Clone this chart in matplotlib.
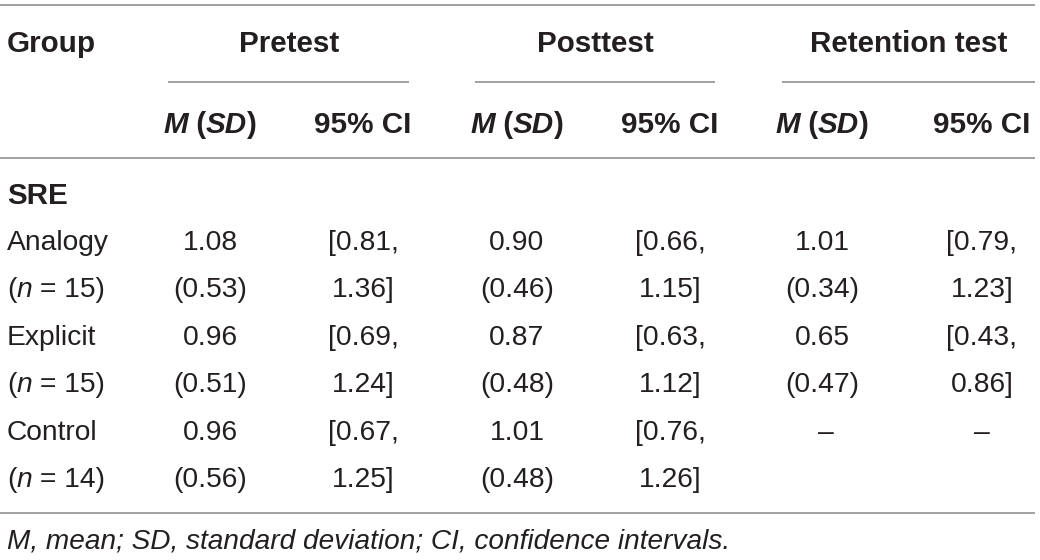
import matplotlib.pyplot as plt
import matplotlib

matplotlib.rcParams['font.family'] = ['Liberation Sans', 'DejaVu Sans']

# table data
tests = ["Pretest", "Posttest", "Retention test"]
groups = ["Analogy", "Explicit", "Control"]
n_sizes = [15, 15, 14]
pre_m = ["1.08", "0.96", "0.96"]
pre_sd = ["0.53", "0.51", "0.56"]
pre_lo = ["0.81", "0.69", "0.67"]
pre_hi = ["1.36", "1.24", "1.25"]
post_m = ["0.90", "0.87", "1.01"]
post_sd = ["0.46", "0.48", "0.48"]
post_lo = ["0.66", "0.63", "0.76"]
post_hi = ["1.15", "1.12", "1.26"]
ret_m = ["1.01", "0.65", None]
ret_sd = ["0.34", "0.47", None]
ret_lo = ["0.79", "0.43", None]
ret_hi = ["1.23", "0.86", None]
section = "SRE"
note = "M, mean; SD, standard deviation; CI, confidence intervals."

FS = 20.3     # regular cells
FSB = 21.3    # bold headers
FSN = 20.2    # footnote
TXT = '#231f20'
LINE = '#888888'

fig = plt.figure(figsize=(10.4, 5.6), dpi=100)
ax = fig.add_axes([0, 0, 1, 1])
ax.set_xlim(0, 1040)
ax.set_ylim(560, 0)
ax.axis('off')
renderer = fig.canvas.get_renderer()


def pieces(parts, x, y, size, ha='center'):
    # draw mixed-style text pieces one after the other
    widths = []
    arts = []
    for s, style, weight in parts:
        t = ax.text(0, y, s, fontsize=size, fontstyle=style, fontweight=weight,
                    color=TXT, va='baseline', ha='left')
        bb = t.get_window_extent(renderer)
        widths.append(bb.width)
        arts.append(t)
    total = sum(widths)
    x0 = x - total / 2 if ha == 'center' else x
    for t, w in zip(arts, widths):
        t.set_x(x0)
        x0 += w


def hline(x0, x1, y):
    ax.plot([x0, x1], [y, y], color=LINE, lw=1.1, solid_capstyle='butt')


# rules
hline(0, 1035, 5)
hline(0, 1035, 158)
hline(0, 1035, 513)

test_cx = [289, 595, 909]
under = [(168, 409), (475, 715), (782, 1035)]
m_cx = [210, 517, 822]
ci_cx = [363, 670, 982]

ax.text(7, 52, "Group", fontsize=FSB, fontweight='bold', color=TXT, va='baseline')
for name, cx, (u0, u1) in zip(tests, test_cx, under):
    ax.text(cx, 52, name, fontsize=FSB, fontweight='bold', color=TXT,
            va='baseline', ha='center')
    hline(u0, u1, 82)

for mx, cx in zip(m_cx, ci_cx):
    pieces([("M", 'italic', 'bold'), (" (", 'normal', 'bold'),
            ("SD", 'italic', 'bold'), (")", 'normal', 'bold')], mx, 133, FSB)
    ax.text(cx, 133, "95% CI", fontsize=FSB, fontweight='bold', color=TXT,
            va='baseline', ha='center')

ax.text(7, 204, section, fontsize=FSB, fontweight='bold', color=TXT, va='baseline')

all_m = [pre_m, post_m, ret_m]
all_sd = [pre_sd, post_sd, ret_sd]
all_lo = [pre_lo, post_lo, ret_lo]
all_hi = [pre_hi, post_hi, ret_hi]

row_y = [250, 345, 440]
for i, g in enumerate(groups):
    y1 = row_y[i]
    y2 = y1 + 47
    ax.text(7, y1, g, fontsize=FS, color=TXT, va='baseline')
    pieces([("(", 'normal', 'normal'), ("n", 'italic', 'normal'),
            (" = %d)" % n_sizes[i], 'normal', 'normal')], 7, y2, FS, ha='left')
    for k in range(3):
        m = all_m[k][i]
        if m is None:
            ax.text(m_cx[k] + 4, y1, "\u2013", fontsize=FS, color=TXT,
                    va='baseline', ha='center')
            ax.text(ci_cx[k], y1, "\u2013", fontsize=FS, color=TXT,
                    va='baseline', ha='center')
            continue
        ax.text(m_cx[k], y1, m, fontsize=FS, color=TXT, va='baseline', ha='center')
        ax.text(m_cx[k], y2, "(%s)" % all_sd[k][i], fontsize=FS, color=TXT,
                va='baseline', ha='center')
        ax.text(ci_cx[k], y1, "[%s," % all_lo[k][i], fontsize=FS, color=TXT,
                va='baseline', ha='center')
        ax.text(ci_cx[k], y2, "%s]" % all_hi[k][i], fontsize=FS, color=TXT,
                va='baseline', ha='center')

ax.text(7, 549, note, fontsize=FSN, fontstyle='italic', color=TXT,
        va='baseline')

fig.savefig("out.png", dpi=100)
